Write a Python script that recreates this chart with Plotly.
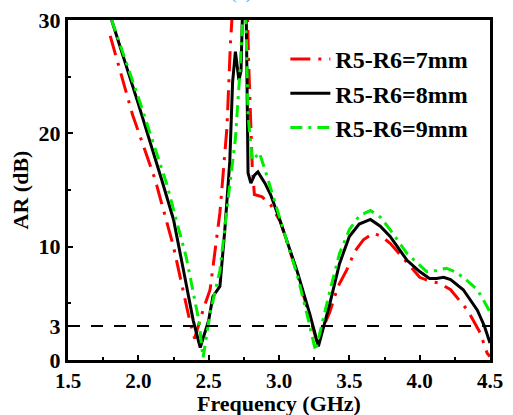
import plotly.graph_objects as go

# R5-R6 = 7 mm (red)
f7 = [1.80, 1.96, 2.12, 2.25, 2.37, 2.40, 2.46, 2.51, 2.58, 2.60, 2.63, 2.655, 2.67, 2.70, 2.77,
      2.785, 2.81, 2.825, 2.88, 2.94, 3.01, 3.13, 3.22, 3.27, 3.36, 3.42, 3.48, 3.54, 3.60,
      3.67, 3.73, 3.79, 3.91, 4.00, 4.08, 4.14, 4.22, 4.34, 4.43, 4.48, 4.50]
ar7 = [28.6, 21.6, 15.9, 10.0, 3.2, 1.9, 4.4, 6.2, 13.0, 15.9, 20.5, 28.0, 31.0, 34.0, 33.0,
       26.0, 17.0, 14.6, 14.4, 13.7, 12.2, 7.6, 3.6, 1.6, 4.2, 6.5, 7.9, 9.6, 10.6,
       11.2, 10.9, 10.3, 8.6, 7.3, 6.9, 6.8, 6.2, 4.4, 2.4, 0.6, 0.3]

# R5-R6 = 8 mm (black)
f8 = [1.81, 2.00, 2.166, 2.25, 2.33, 2.39, 2.44, 2.50, 2.53, 2.58, 2.615, 2.65, 2.67, 2.69,
      2.715, 2.73, 2.745, 2.765, 2.78, 2.80, 2.825, 2.85, 2.90, 2.94, 3.01, 3.13, 3.22,
      3.28, 3.36, 3.43, 3.50, 3.57, 3.65, 3.72, 3.79, 3.91, 4.00, 4.07, 4.12, 4.17, 4.22,
      4.31, 4.41, 4.46, 4.50]
ar8 = [30.0, 22.6, 15.9, 12.4, 7.35, 3.5, 1.1, 3.5, 5.6, 6.5, 11.5, 17.5, 24.5, 27.2,
       24.7, 25.5, 33.0, 33.0, 16.5, 15.6, 16.3, 16.6, 15.6, 14.6, 12.2, 7.8, 4.0,
       1.2, 4.9, 8.5, 10.9, 12.0, 12.4, 11.8, 10.9, 8.8, 7.8, 7.2, 7.2, 7.3, 7.1,
       6.2, 4.4, 3.0, 1.5]

# R5-R6 = 9 mm (green)
f9 = [1.81, 2.01, 2.20, 2.34, 2.43, 2.46, 2.51, 2.58, 2.64, 2.69, 2.72, 2.735, 2.75,
      2.765, 2.78, 2.81, 2.835, 2.86, 2.90, 2.94, 3.01, 3.13, 3.20, 3.26, 3.36, 3.43, 3.50,
      3.57, 3.65, 3.72, 3.79, 3.91, 4.05, 4.12, 4.19, 4.25, 4.31, 4.41, 4.48, 4.50]
ar9 = [30.0, 22.8, 15.6, 9.1, 3.5, 0.2, 4.1, 7.9, 14.4, 19.5, 25.0, 28.0, 32.0,
       30.0, 21.6, 17.6, 18.0, 18.3, 16.8, 15.2, 12.2, 7.5, 4.0, 0.8, 6.0, 9.4, 11.5,
       12.7, 13.2, 12.6, 11.5, 9.4, 7.8, 7.9, 8.1, 7.8, 7.3, 6.2, 4.7, 4.2]

names = ["R5-R6=7mm", "R5-R6=8mm", "R5-R6=9mm"]
x_ticks = [1.5, 2.0, 2.5, 3.0, 3.5, 4.0, 4.5]
x_ticktext = ["1.5", "2.0", "2.5", "3.0", "3.5", "4.0", "4.5"]
y_ticks = [0, 3, 10, 20, 30]
ref_level = 3

FONT = "Liberation Serif, Times New Roman, serif"

fig = go.Figure()
fig.add_trace(go.Scatter(x=f7, y=ar7, mode="lines", name=names[0],
                         line=dict(color="#ff0000", width=3, dash="20px,8px,3px,8px")))
fig.add_trace(go.Scatter(x=f8, y=ar8, mode="lines", name=names[1],
                         line=dict(color="#000000", width=3)))
fig.add_trace(go.Scatter(x=f9, y=ar9, mode="lines", name=names[2],
                         line=dict(color="#00ee00", width=3, dash="12px,6px,3px,6px")))

fig.add_hline(y=ref_level, line=dict(color="black", width=2, dash="12px,11px"))

fig.add_annotation(text="(c)", xref="paper", yref="paper", x=0.41, y=1.045,
                   xanchor="center", yanchor="bottom", showarrow=False,
                   font=dict(family=FONT, size=20, color="#5ab4f0"))

# x-axis title placed as annotation just below tick labels
fig.add_annotation(text="Frequency (GHz)", xref="paper", yref="paper", x=0.5, y=-0.128,
                   xanchor="center", yanchor="middle", showarrow=False,
                   font=dict(family=FONT, size=22, color="black", weight="bold"))

axis_common = dict(showline=True, linewidth=3, linecolor="black", mirror=True,
                   ticks="inside", ticklen=5, tickwidth=2, tickcolor="black",
                   showgrid=False, zeroline=False, automargin=False)

fig.update_xaxes(range=[1.5, 4.5], tickvals=x_ticks, ticktext=x_ticktext,
                 tickfont=dict(family=FONT, size=21, color="black", weight="bold"),
                 minor=dict(ticks="inside", ticklen=3, tickwidth=2, tickcolor="black",
                            tickvals=[1.75, 2.25, 2.75, 3.25, 3.75, 4.25]),
                 **axis_common)
fig.update_yaxes(range=[0, 30], tickvals=y_ticks,
                 tickfont=dict(family=FONT, size=22, color="black", weight="bold"),
                 minor=dict(ticks="inside", ticklen=3, tickwidth=2, tickcolor="black",
                            tickvals=[5, 15, 25]),
                 title=dict(text="AR (dB)", standoff=4,
                            font=dict(family=FONT, size=22, color="black", weight="bold")),
                 **axis_common)

fig.update_layout(
    width=513, height=415,
    margin=dict(l=68, r=23, t=20, b=55),
    plot_bgcolor="white", paper_bgcolor="white",
    legend=dict(x=0.515, y=0.95, xanchor="left", yanchor="top",
                bgcolor="rgba(0,0,0,0)", itemwidth=40, tracegroupgap=0,
                font=dict(family=FONT, size=24, color="black", weight="bold")),
)

fig.write_html("out.html")
